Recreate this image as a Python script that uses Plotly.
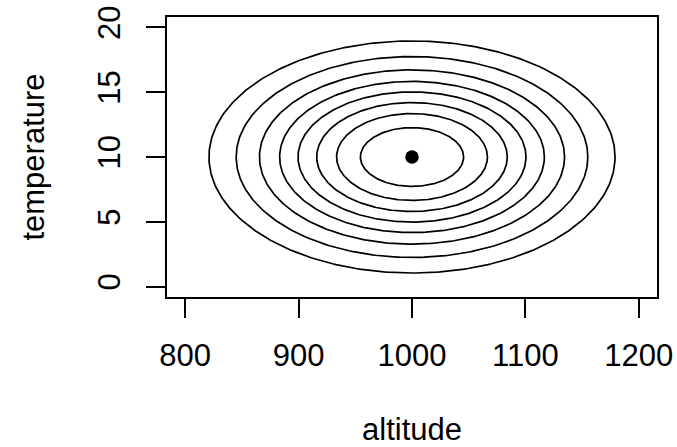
import numpy as np
import plotly.graph_objects as go

# Data
center_altitude = 1000
center_temperature = 10
semi_altitude = [179, 155, 134.5, 116.7, 100.5, 84, 66.5, 45.5]
semi_temperature = [8.95, 7.75, 6.72, 5.83, 5.02, 4.2, 3.35, 2.27]
x_ticks = [800, 900, 1000, 1100, 1200]
y_ticks = [0, 5, 10, 15, 20]

FONT = "Liberation Sans, Arial, sans-serif"
FS = 31
t = np.linspace(0, 2 * np.pi, 361)

fig = go.Figure()
for a, b in zip(semi_altitude, semi_temperature):
    fig.add_trace(go.Scatter(
        x=center_altitude + a * np.cos(t),
        y=center_temperature + b * np.sin(t),
        mode="lines", line=dict(color="black", width=1.7),
        hoverinfo="skip", showlegend=False))

fig.add_trace(go.Scatter(
    x=[center_altitude], y=[center_temperature], mode="markers",
    marker=dict(color="black", size=13.5), showlegend=False))

axis_common = dict(
    showgrid=False, zeroline=False, showline=True, mirror=True,
    linecolor="black", linewidth=1.7, ticks="outside", ticklen=19,
    tickwidth=1.7, tickcolor="black", automargin=False,
    tickfont=dict(family=FONT, size=FS, color="black"),
)

fig.update_layout(
    template="none",
    width=677, height=447,
    margin=dict(l=167, r=20, t=17, b=150),
    paper_bgcolor="white", plot_bgcolor="white",
    xaxis=dict(range=[784, 1216], tickvals=x_ticks, ticklabelstandoff=11,
               title=dict(text="altitude", font=dict(family=FONT, size=FS, color="black"), standoff=52),
               **axis_common),
    yaxis=dict(range=[-0.8, 20.8], tickvals=y_ticks, tickangle=-90, ticklabelstandoff=14,
               title=dict(text="temperature", font=dict(family=FONT, size=FS, color="black"), standoff=38),
               **axis_common),
)

fig.write_html("out.html")
